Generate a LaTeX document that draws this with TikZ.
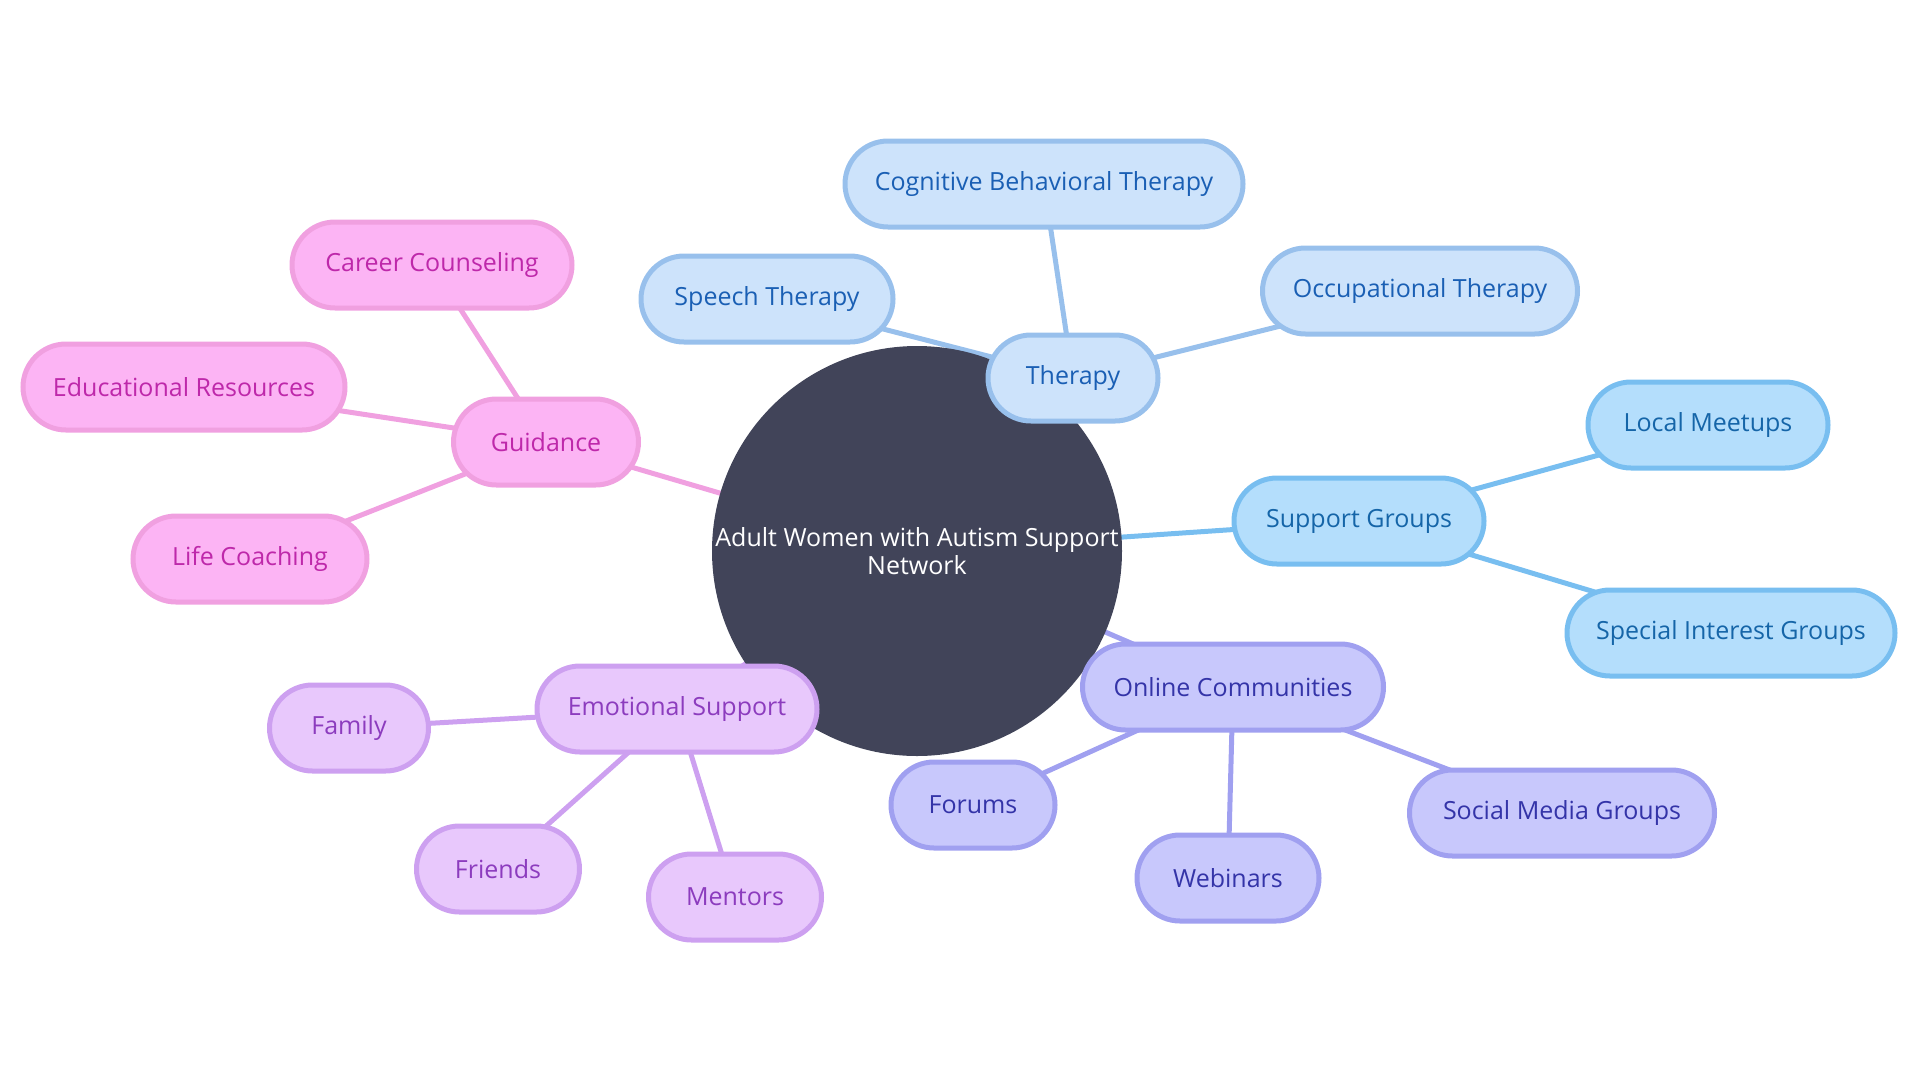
\documentclass[tikz,border=0pt]{standalone}
\usepackage{fontspec}
\setmainfont{Open Sans}
\usetikzlibrary{backgrounds}

\definecolor{rootfill}{HTML}{414459}
\definecolor{thfill}{HTML}{CDE3FB}
\definecolor{thline}{HTML}{98C0EC}
\definecolor{thtext}{HTML}{1A5FB4}
\definecolor{sgfill}{HTML}{B4DEFC}
\definecolor{sgline}{HTML}{78BEF0}
\definecolor{sgtext}{HTML}{1565A8}
\definecolor{ocfill}{HTML}{C8C8FC}
\definecolor{ocline}{HTML}{A0A0F0}
\definecolor{octext}{HTML}{3434A8}
\definecolor{esfill}{HTML}{E8C8FC}
\definecolor{esline}{HTML}{CDA0F0}
\definecolor{estext}{HTML}{8C3CBE}
\definecolor{gdfill}{HTML}{FCB4F4}
\definecolor{gdline}{HTML}{F0A0E0}
\definecolor{gdtext}{HTML}{BE28AA}

\begin{document}
\begin{tikzpicture}[x=1pt,y=-1pt,
  leaf/.style={draw,line width=5pt,rounded corners=43pt,minimum height=86pt,
    inner xsep=0pt,font=\fontsize{25}{30}\selectfont},
  therapybox/.style={leaf,fill=thfill,draw=thline,text=thtext},
  groupbox/.style={leaf,fill=sgfill,draw=sgline,text=sgtext},
  onlinebox/.style={leaf,fill=ocfill,draw=ocline,text=octext},
  emotionbox/.style={leaf,fill=esfill,draw=esline,text=estext},
  guidebox/.style={leaf,fill=gdfill,draw=gdline,text=gdtext},
  link/.style={line width=5pt}]

\useasboundingbox (0,0) rectangle (1920,1080);

\node[circle,fill=rootfill,minimum size=410pt,inner sep=0pt,text=white,align=center,
  font=\fontsize{25}{28}\selectfont] (root) at (917,551) {Adult Women with Autism Support\\Network};

\node[therapybox,minimum width=170pt] (therapy) at (1073,378) {Therapy};
\node[therapybox,minimum width=398pt] (cbt) at (1044,184) {Cognitive Behavioral Therapy};
\node[therapybox,minimum width=252pt] (speech) at (767,299) {Speech Therapy};
\node[therapybox,minimum width=315pt] (occupational) at (1420,291) {Occupational Therapy};

\node[groupbox,minimum width=250pt] (groups) at (1359,521) {Support Groups};
\node[groupbox,minimum width=240pt] (meetups) at (1708,425) {Local Meetups};
\node[groupbox,minimum width=328pt] (interest) at (1731,633) {Special Interest Groups};

\node[onlinebox,minimum width=301pt] (online) at (1233,687) {Online Communities};
\node[onlinebox,minimum width=164pt] (forums) at (973,805) {Forums};
\node[onlinebox,minimum width=182pt] (webinars) at (1228,878) {Webinars};
\node[onlinebox,minimum width=305pt] (social) at (1562,813) {Social Media Groups};

\node[emotionbox,minimum width=280pt] (emotional) at (677,709) {Emotional Support};
\node[emotionbox,minimum width=159pt] (family) at (349,728) {Family};
\node[emotionbox,minimum width=163pt] (friends) at (498,869) {Friends};
\node[emotionbox,minimum width=173pt] (mentors) at (735,897) {Mentors};

\node[guidebox,minimum width=185pt] (guidance) at (546,442) {Guidance};
\node[guidebox,minimum width=280pt] (career) at (432,265) {Career Counseling};
\node[guidebox,minimum width=322pt] (education) at (184,387) {Educational Resources};
\node[guidebox,minimum width=234pt] (coaching) at (250,559) {Life Coaching};

\begin{scope}[on background layer]
\draw[link,thline] (root)--(therapy.center);
\draw[link,thline] (therapy.center)--(cbt.center);
\draw[link,thline] (therapy.center)--(speech.center);
\draw[link,thline] (therapy.center)--(occupational.center);
\draw[link,sgline] (root.center)--(groups.center);
\draw[link,sgline] (groups.center)--(meetups.center);
\draw[link,sgline] (groups.center)--(interest.center);
\draw[link,ocline] (root.center)--(online.center);
\draw[link,ocline] (online.center)--(forums.center);
\draw[link,ocline] (online.center)--(webinars.center);
\draw[link,ocline] (online.center)--(social.center);
\draw[link,esline] (root.center)--(emotional.center);
\draw[link,esline] (emotional.center)--(family.center);
\draw[link,esline] (emotional.center)--(friends.center);
\draw[link,esline] (emotional.center)--(mentors.center);
\draw[link,gdline] (root.center)--(guidance.center);
\draw[link,gdline] (guidance.center)--(career.center);
\draw[link,gdline] (guidance.center)--(education.center);
\draw[link,gdline] (guidance.center)--(coaching.center);
\end{scope}

\end{tikzpicture}
\end{document}
